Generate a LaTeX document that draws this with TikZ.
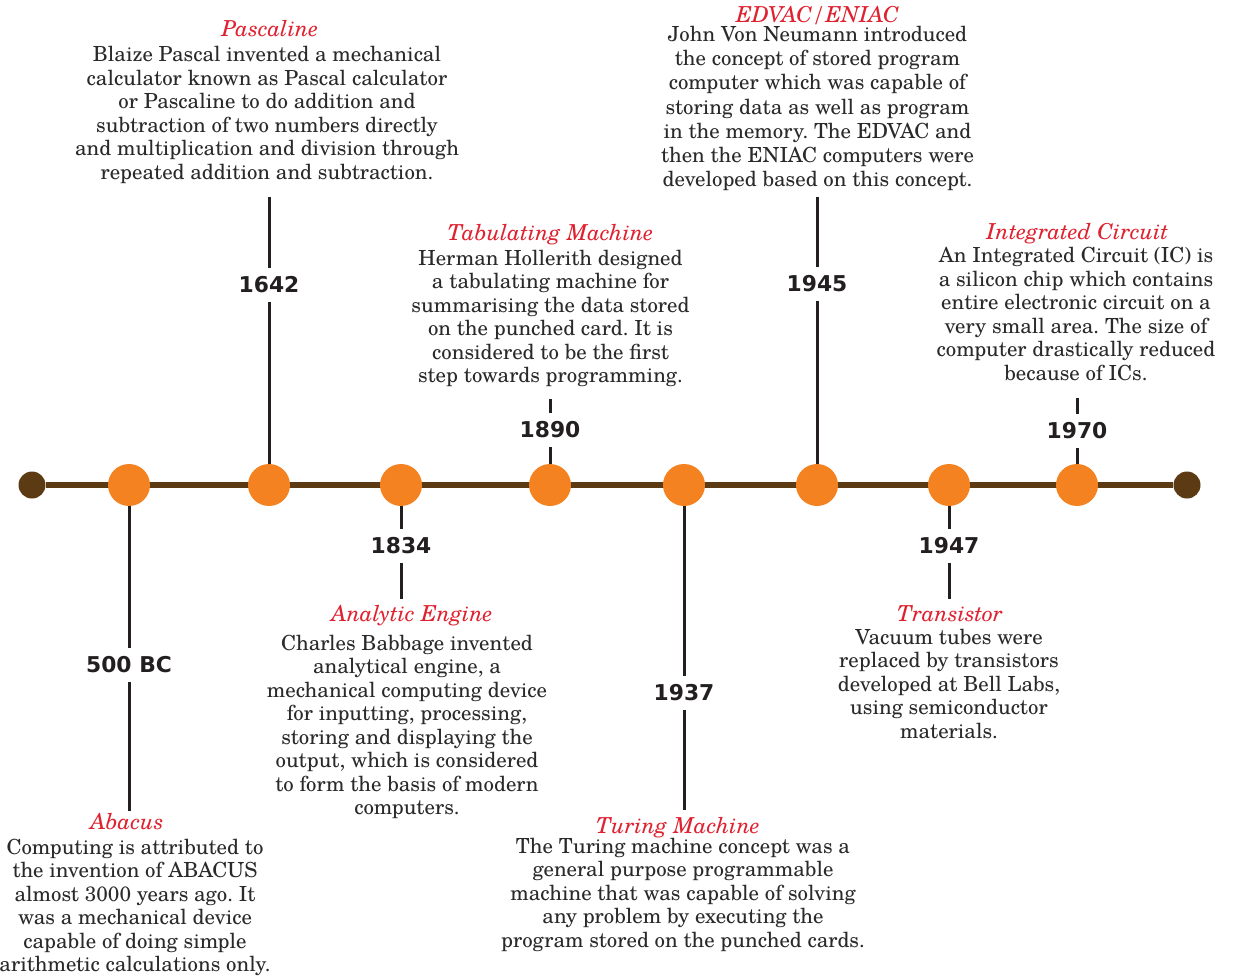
\documentclass[tikz,border=0pt]{standalone}
\usepackage{fontspec}
\setmainfont{texgyreschola}[Extension=.otf, UprightFont=*-regular, ItalicFont=*-italic, BoldFont=*-bold, BoldItalicFont=*-bolditalic]
\newfontfamily\yearfont{DejaVu Sans}
\frenchspacing
\definecolor{evorange}{HTML}{F58220}
\definecolor{evbrown}{HTML}{5B3A14}
\definecolor{stemink}{HTML}{231F20}
\definecolor{titlered}{HTML}{DF2230}
\definecolor{bodyink}{HTML}{2A2A2A}
\tikzset{
  event/.style={circle, fill=evorange, minimum size=42pt, inner sep=0pt},
  enddot/.style={circle, fill=evbrown, minimum size=27pt, inner sep=0pt},
  timeline/.style={draw=evbrown, line width=5.5pt},
  stem/.style={draw=stemink, line width=3pt},
  year/.style={font=\yearfont\bfseries\fontsize{21.8}{22}\selectfont, text=stemink, inner xsep=2pt, inner ysep=8.5pt},
  evtitle/.style={anchor=base, inner sep=0pt, text=titlered, font=\itshape\fontsize{22}{24}\selectfont},
  desc/.style={align=center, anchor=north, inner sep=0pt, text=bodyink, font=\fontsize{20.8}{23.5}\selectfont},
}
\begin{document}
\begin{tikzpicture}[x=1pt, y=-1pt]
\useasboundingbox (0,0) rectangle (1240,977);

% timeline with its two end dots
\node[enddot] (lend) at (32,485) {};
\node[enddot] (rend) at (1187,485) {};
\draw[timeline] (lend) -- (rend);

% events on the line
\node[event] (c500)  at (129,485) {};
\node[event] (c1642) at (269,485) {};
\node[event] (c1834) at (401,485) {};
\node[event] (c1890) at (550,485) {};
\node[event] (c1937) at (684,485) {};
\node[event] (c1945) at (817,485) {};
\node[event] (c1947) at (949,485) {};
\node[event] (c1970) at (1077,485) {};

% years
\node[year] (y500)  at (129,665) {500 BC};
\node[year] (y1642) at (269,285) {1642};
\node[year] (y1834) at (401,546) {1834};
\node[year] (y1890) at (550,430) {1890};
\node[year] (y1937) at (684,693) {1937};
\node[year] (y1945) at (817,284) {1945};
\node[year] (y1947) at (949,546) {1947};
\node[year] (y1970) at (1077,431) {1970};

% free ends of the stems
\coordinate (e500)  at (129,811);
\coordinate (e1642) at (269,197);
\coordinate (e1834) at (401,599);
\coordinate (e1890) at (550,399);
\coordinate (e1937) at (684,810);
\coordinate (e1945) at (817,197);
\coordinate (e1947) at (949,599);
\coordinate (e1970) at (1077,398);

\foreach \k in {500,1642,1834,1890,1937,1945,1947,1970}{
  \draw[stem] (c\k) -- (y\k);
  \draw[stem] (y\k) -- (e\k);
}

% titles
\node[evtitle] (t1642) at (270,36)    {Pascaline};
\node[evtitle] (t1945) at (817.5,22)  {EDVAC/ENIAC};
\node[evtitle] (t1890) at (550.5,240) {Tabulating Machine};
\node[evtitle] (t1970) at (1077.5,239) {Integrated Circuit};
\node[evtitle] (t1834) at (412,621)   {Analytic Engine};
\node[evtitle] (t1947) at (950,621)   {Transistor};
\node[evtitle] (t500)  at (127,829)   {Abacus};
\node[evtitle] (t1937) at (678,833)   {Turing Machine};

% descriptions
\node[desc] (d1642) at (267,46) {Blaize Pascal invented a mechanical\\
calculator known as Pascal calculator\\
or Pascaline to do addition and\\
subtraction of two numbers directly\\
and multiplication and division through\\
repeated addition and subtraction.};

\node[desc, font=\fontsize{20.8}{24.2}\selectfont] (d1945) at (817.5,26) {John Von Neumann introduced\\
the concept of stored program\\
computer which was capable of\\
storing data as well as program\\
in the memory. The EDVAC and\\
then the ENIAC computers were\\
developed based on this concept.};

\node[desc] (d1890) at (550.5,249.5) {Herman Hollerith designed\\
a tabulating machine for\\
summarising the data stored\\
on the punched card. It is\\
considered to be the first\\
step towards programming.};

\node[desc] (d1970) at (1076,247) {An Integrated Circuit (IC) is\\
a silicon chip which contains\\
entire electronic circuit on a\\
very small area. The size of\\
computer drastically reduced\\
because of ICs.};

\node[desc] (d1834) at (407,634.5) {Charles Babbage invented\\
analytical engine, a\\
mechanical computing device\\
for inputting, processing,\\
storing and displaying the\\
output, which is considered\\
to form the basis of modern\\
computers.};

\node[desc] (d1947) at (949,628.5) {Vacuum tubes were\\
replaced by transistors\\
developed at Bell Labs,\\
using semiconductor\\
materials.};

\node[desc] (d500) at (135,838.5) {Computing is attributed to\\
the invention of ABACUS\\
almost 3000 years ago. It\\
was a mechanical device\\
capable of doing simple\\
arithmetic calculations only.};

\node[desc] (d1937) at (683,837.5) {The Turing machine concept was a\\
general purpose programmable\\
machine that was capable of solving\\
any problem by executing the\\
program stored on the punched cards.};
\end{tikzpicture}
\end{document}
